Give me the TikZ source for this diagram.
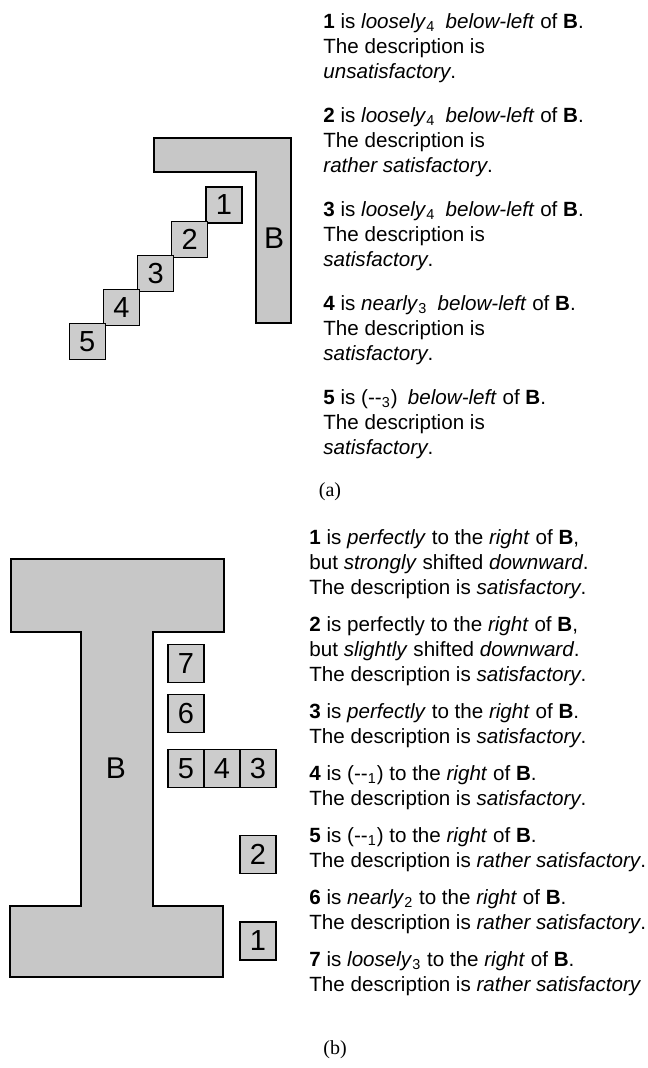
\documentclass[tikz,border=0pt]{standalone}
\usepackage{fontspec}
\setmainfont{Liberation Sans}
\newfontfamily\capfont{Liberation Serif}
\usetikzlibrary{positioning}

\begin{document}
\begin{tikzpicture}[
    x=0.5pt, y=-0.5pt,
    sqa/.style  = {draw, fill=black!20, line width=0.6pt, inner sep=0pt,
                   minimum width=18pt, minimum height=18pt,
                   font=\fontsize{14.5}{17}\selectfont},
    sqb/.style  = {sqa, minimum height=19pt},
    ref/.style  = {draw, fill=black!22, line width=0.6pt},
    big/.style  = {inner sep=0pt, font=\fontsize{15}{18}\selectfont},
    desc/.style = {anchor=north west, align=left, inner sep=0pt,
                   font=\fontsize{10.3}{12.5}\selectfont},
    subcap/.style = {inner sep=0pt, font=\capfont\fontsize{10}{12}\selectfont}
]
\useasboundingbox (0,0) rectangle (647,1068);

%% ── (a): objeto de referencia en L ───────────────────────────────────────
\draw[ref] (154,138) -- (291,138) -- (291,323) -- (256,323)
           -- (256,172) -- (154,172) -- cycle;
\node[big] (Ba) at (274,238) {B};

%% ── (a): escalera de cuadros ─────────────────────────────────────────────
\node[sqa] (a1) at (224,205) {1};
\foreach \i [remember=\i as \j (initially 1)] in {2,...,5}
  \node[sqa, below left=-1.5pt and -1.5pt of a\j] (a\i) {\i};

%% ── (a): descripciones ───────────────────────────────────────────────────
\node[desc] (ta1) at (323,13) {\textbf{1} is \textit{loosely}\textsubscript{4}\enspace\textit{below-left} of \textbf{B}.\\
    The description is\\\textit{unsatisfactory}.};
\node[desc] (ta2) at (323,107) {\textbf{2} is \textit{loosely}\textsubscript{4}\enspace\textit{below-left} of \textbf{B}.\\
    The description is\\\textit{rather satisfactory}.};
\node[desc] (ta3) at (323,201) {\textbf{3} is \textit{loosely}\textsubscript{4}\enspace\textit{below-left} of \textbf{B}.\\
    The description is\\\textit{satisfactory}.};
\node[desc] (ta4) at (323,295) {\textbf{4} is \textit{nearly}\textsubscript{3}\enspace\textit{below-left} of \textbf{B}.\\
    The description is\\\textit{satisfactory}.};
\node[desc] (ta5) at (323,389) {\textbf{5} is (-{}-\textsubscript{3})\enspace\textit{below-left} of \textbf{B}.\\
    The description is\\\textit{satisfactory}.};
\node[subcap] (capa) at (330,492) {(a)};

%% ── (b): objeto de referencia en I ───────────────────────────────────────
\draw[ref] (11,559) -- (224,559) -- (224,632) -- (153,632) -- (153,906)
           -- (223,906) -- (223,977) -- (10,977) -- (10,906) -- (81,906)
           -- (81,632) -- (11,632) -- cycle;
\node[big] (Bb) at (116,768) {B};

%% ── (b): cuadros ─────────────────────────────────────────────────────────
\node[sqb] (b5) at (186,768.5) {5};
\node[sqb, right=-0.6pt of b5] (b4) {4};
\node[sqb, right=-0.6pt of b4] (b3) {3};
\node[sqb, above=8pt of b5] (b6) {6};
\node[sqb, above=5.5pt of b6] (b7) {7};
\node[sqb, below=23.5pt of b3] (b2) {2};
\node[sqb, below=23.5pt of b2] (b1) {1};

%% ── (b): descripciones ───────────────────────────────────────────────────
\node[desc] (tb1) at (309,529) {\textbf{1} is \textit{perfectly} to the \textit{right} of \textbf{B},\\
    but \textit{strongly} shifted \textit{downward}.\\The description is \textit{satisfactory}.};
\node[desc] (tb2) at (309,616) {\textbf{2} is perfectly to the \textit{right} of \textbf{B},\\
    but \textit{slightly} shifted \textit{downward}.\\The description is \textit{satisfactory}.};
\node[desc] (tb3) at (309,703) {\textbf{3} is \textit{perfectly} to the \textit{right} of \textbf{B}.\\
    The description is \textit{satisfactory}.};
\node[desc] (tb4) at (309,765) {\textbf{4} is (-{}-\textsubscript{1}) to the \textit{right} of \textbf{B}.\\
    The description is \textit{satisfactory}.};
\node[desc] (tb5) at (309,827) {\textbf{5} is (-{}-\textsubscript{1}) to the \textit{right} of \textbf{B}.\\
    The description is \textit{rather satisfactory}.};
\node[desc] (tb6) at (309,889) {\textbf{6} is \textit{nearly}\textsubscript{2} to the \textit{right} of \textbf{B}.\\
    The description is \textit{rather satisfactory}.};
\node[desc] (tb7) at (309,951) {\textbf{7} is \textit{loosely}\textsubscript{3} to the \textit{right} of \textbf{B}.\\
    The description is \textit{rather satisfactory}};
\node[subcap] (capb) at (335,1050) {(b)};

\end{tikzpicture}
\end{document}
